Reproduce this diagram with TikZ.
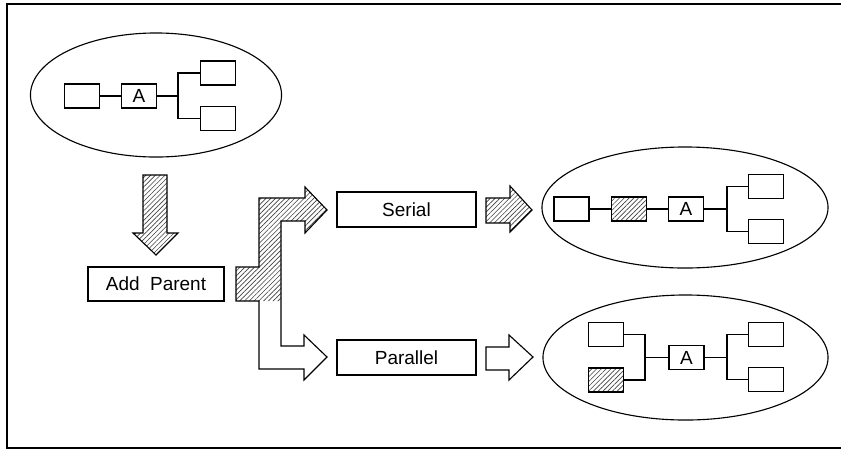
\documentclass[tikz,border=0pt]{standalone}
\usepackage{fontspec}
\setmainfont{Liberation Sans}
\newfontfamily\labelfont{Liberation Sans}
\usetikzlibrary{shapes.geometric,patterns.meta}

\begin{document}
\begin{tikzpicture}[
    x=0.025cm, y=-0.025cm,
    line width=0.8pt,
    cell/.style={
        draw,
        minimum width=8.75mm,
        minimum height=6mm,
        inner sep=0pt,
        font=\labelfont\fontsize{13.5}{14}\selectfont
    },
    label/.style={
        draw,
        minimum width=34.75mm,
        minimum height=8.75mm,
        inner sep=0pt,
        font=\labelfont\fontsize{13.5}{14}\selectfont
    },
    group/.style={
        draw,
        ellipse,
        inner sep=0pt
    },
    hatch/.style={
        pattern={Lines[angle=45,distance=2.4pt,line width=0.45pt]},
        pattern color=black!75
    }
]
    \useasboundingbox (0,0) rectangle (841,450);

    % frame
    \draw (841,4) -- (7,4) -- (7,448) -- (841,448);

    % starting network
    \node[group, minimum width=62.75mm, minimum height=31mm] (start) at (156,95) {};
    \node[cell] (s1) at (82,96) {};
    \node[cell] (sA) at (139,96) {A};
    \node[cell] (s2) at (218,73) {};
    \node[cell] (s3) at (218,118.5) {};
    \coordinate (sf) at (178,96);
    \draw (s1) -- (sA);
    \draw (sA) -- (sf) |- (s2);
    \draw (sf) |- (s3);

    % operation and variants
    \node[label, minimum width=34mm, minimum height=8.5mm] (add) at (156,284) {Add\hspace{0.55em}Parent};
    \node[label] (serial) at (406.5,209.5) {Serial};
    \node[label] (parallel) at (406.5,357.5) {Parallel};

    % block arrows
    \draw[hatch] (143,175) -- (167,175) -- (167,233) -- (178,233) -- (156,255)
        -- (133,233) -- (143,233) -- cycle;
    \fill[hatch] (236,267) -- (259,267) -- (259,198) -- (305,198) -- (305,187)
        -- (327,210) -- (305,233) -- (305,221) -- (281,221) -- (281,301)
        -- (236,301) -- cycle;
    \draw (236,267) -- (259,267) -- (259,198) -- (305,198) -- (305,187)
        -- (327,210) -- (305,233) -- (305,221) -- (281,221) -- (281,346)
        -- (304,346) -- (304,335) -- (327,357) -- (304,380) -- (304,369)
        -- (259,369) -- (259,301) -- (236,301) -- cycle;
    \draw[hatch] (486,198) -- (510,198) -- (510,186) -- (532,210) -- (510,232)
        -- (510,223) -- (486,223) -- cycle;
    \draw (486,347) -- (509,347) -- (509,335) -- (533,357) -- (509,380)
        -- (509,370) -- (486,370) -- cycle;

    % serial result
    \node[group, minimum width=71.5mm, minimum height=30.25mm] (ser) at (685,207.5) {};
    \node[cell] (e1) at (571.5,209) {};
    \node[cell, hatch] (eP) at (629,209) {};
    \node[cell] (eA) at (686,209) {A};
    \node[cell] (e2) at (766,186.5) {};
    \node[cell] (e3) at (766,231.5) {};
    \coordinate (ef) at (727,209);
    \draw (e1) -- (eP);
    \draw (eP) -- (eA);
    \draw (eA) -- (ef) |- (e2);
    \draw (ef) |- (e3);

    % parallel result
    \node[group, minimum width=71.25mm, minimum height=31.25mm] (par) at (685.5,357.5) {};
    \node[cell] (p1) at (606,334.5) {};
    \node[cell, hatch] (pP) at (606,380) {};
    \node[cell] (pA) at (686.5,357.5) {A};
    \node[cell] (p2) at (766,334.5) {};
    \node[cell] (p3) at (766,379.5) {};
    \coordinate (pl) at (645,357.5);
    \coordinate (pr) at (727,357.5);
    \draw (p1) -| (pl) |- (pP);
    \draw (pl) -- (pA);
    \draw (pA) -- (pr) |- (p2);
    \draw (pr) |- (p3);
\end{tikzpicture}
\end{document}
